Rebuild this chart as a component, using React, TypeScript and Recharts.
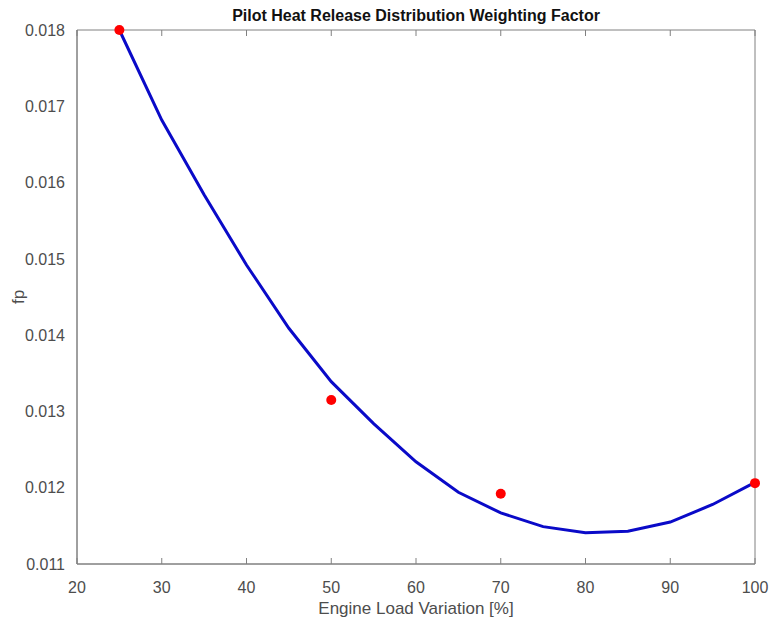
import React from 'react';
import {
  ComposedChart,
  Line,
  Scatter,
  XAxis,
  YAxis,
} from 'recharts';

// engine load [%] for the fitted curve
const loads = [25, 30, 35, 40, 45, 50, 55, 60, 65, 70, 75, 80, 85, 90, 95, 100];
// fitted weighting factor fp
const fitValues = [
  0.018, 0.01682, 0.01584, 0.01492, 0.01409, 0.01339, 0.01284, 0.01234,
  0.01194, 0.01167, 0.01149, 0.01141, 0.01143, 0.01155, 0.01178, 0.01207,
];

// measured points
const measuredLoads = [25, 50, 70, 100];
const measuredValues = [0.018, 0.01315, 0.01192, 0.01206];

const xTicks = [20, 30, 40, 50, 60, 70, 80, 90, 100];
const yTicks = [0.011, 0.012, 0.013, 0.014, 0.015, 0.016, 0.017, 0.018];

const fitData = loads.map((x, i) => ({ x, fit: fitValues[i] }));
const measuredData = measuredLoads.map((x, i) => ({ x, measured: measuredValues[i] }));

const axisColor = '#808080';
const textColor = '#4d4d4d';
const font = '"Liberation Sans", Arial, Helvetica, sans-serif';
const xDomain: [number, number] = [20, 100];
const yDomain: [number, number] = [0.011, 0.018];

const App: React.FC = () => {
  return (
    <div style={{ position: 'absolute', left: 0, top: 0, width: 769, height: 617, background: '#fff', fontFamily: font }}>
      <div
        style={{
          position: 'absolute',
          left: 77,
          width: 678,
          top: 7,
          textAlign: 'center',
          fontSize: 16,
          fontWeight: 'bold',
          color: '#111',
        }}
      >
        Pilot Heat Release Distribution Weighting Factor
      </div>
      <ComposedChart
        width={769}
        height={617}
        data={fitData}
        margin={{ top: 30, right: 14, left: 0, bottom: 0 }}
        style={{ fontFamily: font }}
      >
        {/* labelled axes (no tick lines) */}
        <XAxis
          xAxisId="bottom"
          dataKey="x"
          type="number"
          domain={xDomain}
          ticks={xTicks}
          height={53}
          tickLine={false}
          tickMargin={12}
          stroke={axisColor}
          tick={{ fill: textColor, fontSize: 16 }}
          label={{
            value: 'Engine Load Variation [%]',
            position: 'insideBottom',
            offset: 3,
            style: { fill: textColor, fontSize: 17 },
          }}
        />
        <YAxis
          yAxisId="left"
          type="number"
          domain={yDomain}
          ticks={yTicks}
          width={77}
          tickLine={false}
          tickMargin={6}
          stroke={axisColor}
          tick={{ fill: textColor, fontSize: 16 }}
          tickFormatter={(v: number) => v.toFixed(3)}
          label={{
            value: 'fp',
            angle: -90,
            position: 'insideLeft',
            offset: 18,
            style: { fill: textColor, fontSize: 17, textAnchor: 'middle' },
          }}
        />
        {/* mirrored axes: inward ticks on all four sides */}
        <XAxis xAxisId="bottomTicks" dataKey="x" type="number" orientation="bottom" mirror
          domain={xDomain} ticks={xTicks} tickSize={6} stroke={axisColor} tickFormatter={() => ''} />
        <XAxis xAxisId="topTicks" dataKey="x" type="number" orientation="top" mirror
          domain={xDomain} ticks={xTicks} tickSize={6} stroke={axisColor} tickFormatter={() => ''} />
        <YAxis yAxisId="leftTicks" type="number" orientation="left" mirror
          domain={yDomain} ticks={yTicks} tickSize={6} stroke={axisColor} tickFormatter={() => ''} />
        <YAxis yAxisId="rightTicks" type="number" orientation="right" mirror
          domain={yDomain} ticks={yTicks} tickSize={6} stroke={axisColor} tickFormatter={() => ''} />
        <Line
          xAxisId="bottom"
          yAxisId="left"
          type="linear"
          dataKey="fit"
          stroke="#0a0ac8"
          strokeWidth={3}
          dot={false}
          isAnimationActive={false}
        />
        <Scatter
          xAxisId="bottom"
          yAxisId="left"
          data={measuredData}
          dataKey="measured"
          fill="#ff0000"
          shape={(props: any) => <circle cx={props.cx} cy={props.cy} r={5} fill="#ff0000" />}
          isAnimationActive={false}
        />
      </ComposedChart>
    </div>
  );
};

export default App;
